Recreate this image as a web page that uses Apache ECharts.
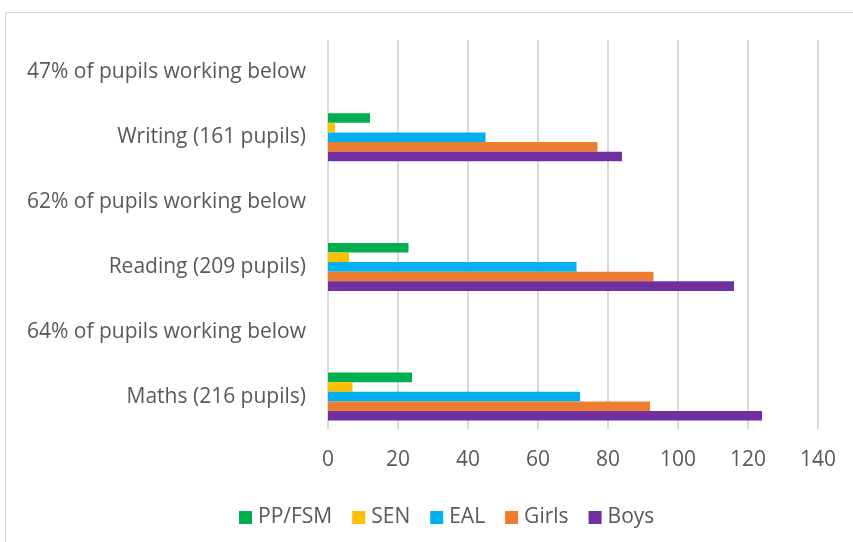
<!DOCTYPE html>
<html>
<head>
<meta charset="utf-8">
<script src="https://cdn.jsdelivr.net/npm/echarts@6/dist/echarts.min.js"></script>
<style>
  html, body { margin: 0; padding: 0; background: #fff; }
  #chart { width: 853px; height: 542px; }
</style>
</head>
<body>
<div id="chart"></div>
<script>
// categories, bottom to top
const categories = [
  'Maths (216 pupils)',
  '64% of pupils working below',
  'Reading (209 pupils)',
  '62% of pupils working below',
  'Writing (161 pupils)',
  '47% of pupils working below'
]
const ppFsm = [24, null, 23, null, 12, null]
const sen = [7, null, 6, null, 2, null]
const eal = [72, null, 71, null, 45, null]
const girls = [92, null, 93, null, 77, null]
const boys = [124, null, 116, null, 84, null]
const xTicks = [0, 140, 20]

const font = 'Open Sans'
const myChart = echarts.init(document.getElementById('chart'))

function bar (name, color, data) {
  return {
    name,
    type: 'bar',
    data,
    barGap: '0%',
    barCategoryGap: '26%',
    itemStyle: { color }
  }
}

const option = {
  backgroundColor: '#fff',
  animation: false,
  graphic: [
    {
      type: 'rect',
      shape: { x: 5.5, y: 12.5, width: 900, height: 600 },
      style: { fill: 'none', stroke: '#d9d9d9', lineWidth: 1 }
    }
  ],
  grid: {
    left: 328,
    right: 35,
    top: 40,
    bottom: 113
  },
  legend: {
    top: 502,
    left: 234,
    itemWidth: 13,
    itemHeight: 13,
    itemGap: 20,
    icon: 'rect',
    textStyle: { color: '#595959', fontSize: 21, fontFamily: font, padding: [0, 0, 0, 1] },
    data: ['PP/FSM', 'SEN', 'EAL', 'Girls', 'Boys']
  },
  xAxis: {
    type: 'value',
    min: xTicks[0],
    max: xTicks[1],
    interval: xTicks[2],
    axisLine: { show: false },
    axisTick: { show: false },
    splitLine: { lineStyle: { color: '#d9d9d9', width: 2 } },
    axisLabel: { color: '#595959', fontSize: 21, fontFamily: font, margin: 21 }
  },
  yAxis: {
    type: 'category',
    data: categories,
    axisLine: { show: false },
    axisTick: { show: false },
    axisLabel: { color: '#595959', fontSize: 21, fontFamily: font, margin: 22 }
  },
  series: [
    bar('PP/FSM', '#00b050', ppFsm),
    bar('SEN', '#ffc000', sen),
    bar('EAL', '#00b0f0', eal),
    bar('Girls', '#ed7d31', girls),
    bar('Boys', '#7030a0', boys)
  ]
}

option && myChart.setOption(option)
</script>
</body>
</html>
